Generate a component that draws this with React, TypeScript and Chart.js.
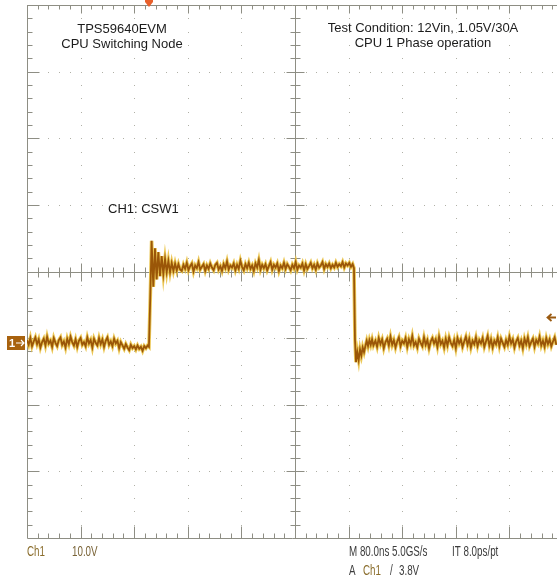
import React, { useEffect, useRef } from "react";
import { Chart, registerables } from "chart.js";

Chart.register(...registerables);

// Oscilloscope settings
const NS_PER_DIV = 80; // M 80.0ns
const V_PER_DIV = 10; // Ch1 10.0V
const X_MAX_NS = 791; // visible right edge (screen is cut at ~9.9 div)
const Y_MIN_V = -29.3; // bottom of graticule (ground marker offset)
const Y_MAX_V = 50.7; // top of graticule
const TRIGGER_POS_NS = 184;
const TRIGGER_LEVEL_V = 3.8;

// Ch1 trace, uniformly sampled segments (every 2.5 ns)
const STEP_NS = 2.5;

// Low level before the rising edge, from 0 ns
const LOW_A_START_NS = 0;
const LOW_A_V = [
  0.4, -0.3, 0.7, -0.5, 0.2, 0.8, -0.2, 0.5, -0.7, 0.1,
  0.6, -0.4, 0.9, -0.1, 0.3, -0.6, 0.7, 0.0, -0.5, 0.4,
  0.8, -0.3, 0.2, -0.7, 0.6, -0.2, 0.9, 0.1, -0.4, 0.5,
  -0.6, 0.3, 0.7, -0.3, 0.1, -0.5, 0.8, -0.1, 0.4, -0.7,
  0.6, 0.0, -0.4, 0.7, -0.2, 0.5, -0.6, 0.3, 0.8, -0.3,
  0.2, -0.5, 0.6, -0.1, 0.3, -0.8, 0.1, -0.4, -0.9, -0.2,
  -0.7, -1.1, -0.3, -0.8, -0.5, -1.0, -0.4, -0.9, -0.6, -1.2,
  -0.5, -0.8, -0.4,
];

// Rising edge and ringing (explicit time/value samples)
const RING_T = [182, 184, 186, 188.5, 191, 193.5, 196, 198.5, 201, 203.5, 206, 208.5, 211, 213.5, 216, 218.5, 221, 223.5, 226, 228.5];
const RING_V = [-0.6, 7.0, 15.3, 8.4, 14.2, 9.5, 13.6, 10.0, 13.0, 10.3, 12.6, 10.6, 12.3, 10.6, 12.0, 10.8, 11.9, 10.9, 11.8, 11.0];

// High level, from 231 ns
const HIGH_START_NS = 231;
const HIGH_V = [
  10.8, 11.7, 11.1, 12.0, 10.9, 11.5, 11.9, 10.7, 11.6, 11.2,
  12.1, 11.0, 11.4, 11.8, 10.8, 11.6, 11.1, 11.9, 11.3, 10.9,
  11.7, 12.0, 11.0, 11.5, 10.8, 11.8, 11.2, 12.2, 11.0, 11.6,
  11.3, 11.9, 10.9, 11.7, 11.1, 12.3, 11.4, 10.9, 11.8, 11.2,
  12.0, 11.1, 11.6, 10.8, 11.9, 11.3, 12.4, 11.0, 11.7, 11.2,
  11.8, 10.9, 11.5, 12.1, 11.0, 11.7, 11.3, 11.9, 10.8, 11.6,
  11.2, 12.0, 11.1, 11.8, 11.4, 10.9, 11.7, 11.2, 12.1, 11.0,
  11.6, 11.3, 11.9, 10.9, 11.8, 11.1, 11.5, 12.0, 11.2, 11.7,
  11.0, 11.9, 11.3, 11.6, 12.1, 11.1, 11.8, 11.4, 11.9, 11.2,
  11.7, 11.3, 12.0, 11.4, 11.8, 11.5, 12.1, 11.3, 11.9, 11.6,
  12.0, 11.4, 11.8,
];

// Falling edge and undershoot (explicit)
const FALL_T = [488, 489.5, 491, 493, 495, 497, 499, 501, 503, 505, 507, 509, 511, 513, 515, 517];
const FALL_V = [11.2, 0.5, -2.9, -1.4, -2.6, -1.0, -1.9, -0.7, -1.4, -0.5, 0.3, -0.5, 0.4, -0.3, 0.5, -0.4];

// Low level after falling edge, from 520 ns
const LOW_B_START_NS = 520;
const LOW_B_V = [
  0.3, -0.6, 0.7, -0.2, 0.5, -0.8, 0.1, 0.6, -0.4, 0.9,
  -0.3, 0.4, -0.7, 0.2, 0.8, -0.5, 0.3, -0.1, 0.7, -0.6,
  0.5, -0.2, 1.0, -0.4, 0.1, -0.7, 0.6, 0.0, -0.5, 0.8,
  -0.3, 0.4, -0.8, 0.2, 0.7, -0.1, 0.5, -0.6, 0.9, -0.2,
  0.3, -0.7, 0.6, -0.4, 0.8, 0.0, -0.5, 0.4, -0.8, 0.7,
  -0.1, 0.5, -0.6, 0.2, 0.9, -0.3, 0.6, -0.7, 0.3, -0.2,
  0.8, -0.5, 0.4, -0.1, 0.7, -0.6, 0.2, 1.0, -0.4, 0.5,
  -0.7, 0.3, -0.2, 0.8, -0.5, 0.6, 0.0, -0.6, 0.4, -0.3,
  0.9, -0.1, 0.5, -0.7, 0.2, 0.7, -0.4, 0.3, -0.8, 0.6,
  -0.2, 0.8, -0.5, 0.1, 0.6, -0.6, 0.4, -0.1, 0.9, -0.4,
  0.3, -0.6, 0.7, -0.2, 0.5, -0.5, 0.2, 0.8, -0.3,
];

// Text
const TITLE_LEFT = ["TPS59640EVM", "CPU Switching Node"];
const TITLE_RIGHT = ["Test Condition: 12Vin, 1.05V/30A", "CPU 1 Phase operation"];
const TRACE_LABEL = "CH1: CSW1";

function buildTrace() {
  const pts: { x: number; y: number }[] = [];
  LOW_A_V.forEach((v, i) => pts.push({ x: LOW_A_START_NS + i * STEP_NS, y: v }));
  RING_T.forEach((t, i) => pts.push({ x: t, y: RING_V[i] }));
  HIGH_V.forEach((v, i) => pts.push({ x: HIGH_START_NS + i * STEP_NS, y: v }));
  FALL_T.forEach((t, i) => pts.push({ x: t, y: FALL_V[i] }));
  LOW_B_V.forEach((v, i) => pts.push({ x: LOW_B_START_NS + i * STEP_NS, y: v }));
  return pts;
}

function condensedText(ctx: CanvasRenderingContext2D, text: string, x: number, y: number) {
  ctx.save();
  ctx.translate(x, y);
  ctx.scale(0.7, 1);
  ctx.fillText(text, 0, 0);
  ctx.restore();
}

const graticulePlugin = {
  id: "graticule",
  beforeDatasetsDraw(chart: any) {
    const { ctx, chartArea } = chart;
    const xs = chart.scales.x;
    const top = chartArea.top;
    const bottom = chartArea.bottom;
    const rowH = (bottom - top) / 8;
    const left = xs.getPixelForValue(0);
    const divW = xs.getPixelForValue(NS_PER_DIV) - left;
    const vx = (i: number) => Math.round(left + i * divW) + 0.5;
    const hy = (j: number) => Math.round(top + j * rowH) + 0.5;
    ctx.save();
    // dotted grid
    ctx.fillStyle = "#b0b0a6";
    for (let i = 1; i < 10; i++) {
      if (i === 5) continue;
      for (let m = 1; m < 40; m++) {
        const y = top + (m * rowH) / 5;
        ctx.fillRect(vx(i) - 0.5, Math.round(y), 1, 1);
      }
    }
    for (let j = 1; j < 8; j++) {
      if (j === 4) continue;
      for (let m = 1; m < 50; m++) {
        const x = left + (m * divW) / 5;
        ctx.fillRect(Math.round(x), hy(j) - 0.5, 1, 1);
      }
    }
    ctx.strokeStyle = "#8e8e84";
    ctx.lineWidth = 1;
    ctx.beginPath();
    // frame: left, top, bottom
    ctx.moveTo(vx(0), top);
    ctx.lineTo(vx(0), bottom + 0.5);
    ctx.moveTo(vx(0), hy(0));
    ctx.lineTo(chartArea.right + 5, hy(0));
    ctx.moveTo(vx(0), hy(8));
    ctx.lineTo(chartArea.right + 5, hy(8));
    // center axes
    ctx.moveTo(vx(5), top);
    ctx.lineTo(vx(5), bottom);
    ctx.moveTo(vx(0), hy(4));
    ctx.lineTo(chartArea.right + 5, hy(4));
    // horizontal ticks (along x)
    for (let m = 1; m < 50; m++) {
      const x = Math.round(left + (m * divW) / 5) + 0.5;
      const major = m % 5 === 0;
      ctx.moveTo(x, hy(0));
      ctx.lineTo(x, hy(0) + (major ? 8 : 4));
      ctx.moveTo(x, hy(8));
      ctx.lineTo(x, hy(8) - (major ? 12 : 5));
      ctx.moveTo(x, hy(4) - (major ? 9 : 5));
      ctx.lineTo(x, hy(4) + (major ? 9 : 5));
    }
    // vertical ticks (along y)
    for (let m = 1; m < 40; m++) {
      const y = Math.round(top + (m * rowH) / 5) + 0.5;
      const major = m % 5 === 0;
      ctx.moveTo(vx(0), y);
      ctx.lineTo(vx(0) + (major ? 12 : 5), y);
      ctx.moveTo(vx(5) - (major ? 9 : 5), y);
      ctx.lineTo(vx(5) + (major ? 9 : 5), y);
    }
    ctx.stroke();
    ctx.restore();
  },
  afterDraw(chart: any) {
    const { ctx } = chart;
    const xs = chart.scales.x;
    const ys = chart.scales.y;
    ctx.save();
    // annotations
    ctx.fillStyle = "#1c1c1c";
    ctx.font = '13px "Liberation Sans", Arial, sans-serif';
    ctx.textBaseline = "middle";
    ctx.textAlign = "center";
    ctx.fillText(TITLE_LEFT[0], 122, 29);
    ctx.fillText(TITLE_LEFT[1], 122, 44);
    ctx.fillText(TITLE_RIGHT[0], 423, 28);
    ctx.fillText(TITLE_RIGHT[1], 423, 43);
    ctx.textAlign = "left";
    ctx.fillText(TRACE_LABEL, 108, 209);

    // trigger position marker (top)
    const tx = Math.round(xs.getPixelForValue(TRIGGER_POS_NS)) - 1;
    ctx.fillStyle = "#e8602c";
    ctx.beginPath();
    ctx.moveTo(tx - 4, 0);
    ctx.lineTo(tx + 4, 0);
    ctx.lineTo(tx + 4, 2);
    ctx.lineTo(tx, 7);
    ctx.lineTo(tx - 4, 2);
    ctx.closePath();
    ctx.fill();

    // ground marker (left)
    const gy = Math.round(ys.getPixelForValue(0));
    ctx.fillStyle = "#a8620e";
    ctx.fillRect(7, gy - 7, 18, 14);
    ctx.fillStyle = "#ffffff";
    ctx.font = 'bold 11px "Liberation Sans", Arial, sans-serif';
    ctx.textAlign = "left";
    ctx.fillText("1", 9, gy + 1);
    ctx.strokeStyle = "#ffffff";
    ctx.lineWidth = 1.2;
    ctx.beginPath();
    ctx.moveTo(16, gy);
    ctx.lineTo(24, gy);
    ctx.moveTo(21, gy - 3);
    ctx.lineTo(24, gy);
    ctx.lineTo(21, gy + 3);
    ctx.stroke();

    // trigger level marker (right)
    const ly = Math.round(ys.getPixelForValue(TRIGGER_LEVEL_V)) + 0.5;
    ctx.strokeStyle = "#9a5a10";
    ctx.lineWidth = 1.8;
    ctx.beginPath();
    ctx.moveTo(556, ly);
    ctx.lineTo(548, ly);
    ctx.moveTo(551.5, ly - 3.5);
    ctx.lineTo(547.5, ly);
    ctx.lineTo(551.5, ly + 3.5);
    ctx.stroke();

    // readouts
    ctx.font = '14px "Liberation Sans", Arial, sans-serif';
    ctx.textBaseline = "middle";
    ctx.textAlign = "left";
    ctx.fillStyle = "#8a6d2c";
    condensedText(ctx, "Ch1", 27, 552);
    ctx.fillStyle = "#7a6438";
    condensedText(ctx, V_PER_DIV.toFixed(1) + "V", 72, 552);
    ctx.fillStyle = "#3c3c3c";
    condensedText(ctx, "M " + NS_PER_DIV.toFixed(1) + "ns 5.0GS/s", 349, 552);
    condensedText(ctx, "IT 8.0ps/pt", 452, 552);
    condensedText(ctx, "A", 349, 571);
    ctx.fillStyle = "#8a6d2c";
    condensedText(ctx, "Ch1", 363, 571);
    ctx.fillStyle = "#3c3c3c";
    condensedText(ctx, "/", 390, 571);
    condensedText(ctx, TRIGGER_LEVEL_V.toFixed(1) + "V", 399, 571);
    ctx.restore();
  },
};

export default function App() {
  const ref = useRef<HTMLCanvasElement | null>(null);
  useEffect(() => {
    if (!ref.current) return;
    const data = buildTrace();
    const chart = new Chart(ref.current, {
      type: "line",
      data: {
        datasets: [
          {
            data,
            borderColor: "#9a5608",
            borderWidth: 1.8,
            pointRadius: 0,
            tension: 0,
            order: 1,
          },
          {
            data,
            borderColor: "rgba(234,194,68,0.9)",
            borderWidth: 3.6,
            pointRadius: 0,
            tension: 0,
            order: 2,
          },
        ],
      },
      options: {
        responsive: false,
        devicePixelRatio: 1,
        animation: false,
        layout: { padding: { left: 27, top: 5, right: 0, bottom: 41 } },
        scales: {
          x: { type: "linear", min: 0, max: X_MAX_NS, display: false },
          y: { type: "linear", min: Y_MIN_V, max: Y_MAX_V, display: false },
        },
        plugins: { legend: { display: false }, tooltip: { enabled: false } },
        events: [],
      },
      plugins: [graticulePlugin],
    });
    return () => chart.destroy();
  }, []);
  return (
    <div style={{ position: "fixed", left: 0, top: 0, width: 557, height: 579, background: "#ffffff" }}>
      <canvas ref={ref} width={557} height={579} style={{ display: "block", width: 557, height: 579 }} />
    </div>
  );
}
